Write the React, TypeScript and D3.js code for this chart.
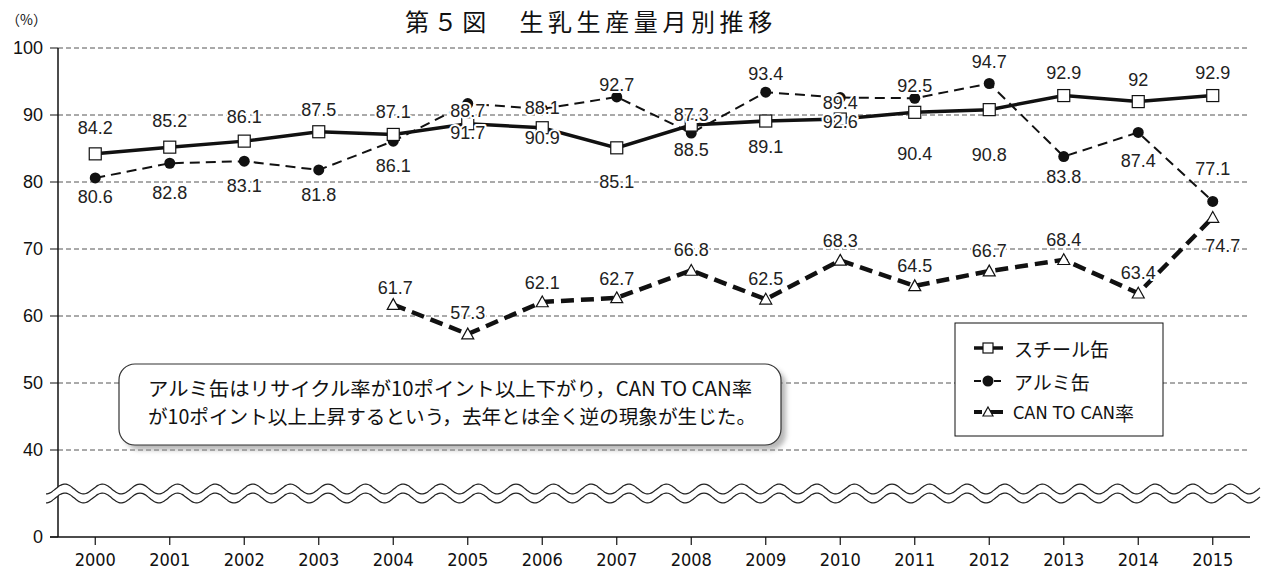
import { useMemo } from "react";
import * as d3 from "d3";

const years = ["2000","2001","2002","2003","2004","2005","2006","2007","2008","2009","2010","2011","2012","2013","2014","2015"];
const steel = [84.2, 85.2, 86.1, 87.5, 87.1, 88.7, 88.1, 85.1, 88.5, 89.1, 89.4, 90.4, 90.8, 92.9, 92.0, 92.9];
const alumi = [80.6, 82.8, 83.1, 81.8, 86.1, 91.7, 90.9, 92.7, 87.3, 93.4, 92.6, 92.5, 94.7, 83.8, 87.4, 77.1];
const canToCan = [null, null, null, null, 61.7, 57.3, 62.1, 62.7, 66.8, 62.5, 68.3, 64.5, 66.7, 68.4, 63.4, 74.7];
const yTicks = [0, 40, 50, 60, 70, 80, 90, 100];

// label offsets (px, relative to marker) as placed in the original figure
const steelLabelDy = [-26, -26, -24, -22, -22, -13, -20, 34, 25, 26, -16, 42, 45, -23, -22, -23];
const alumiLabelDy = [19, 30, 25, 25, 25, 29, 29, -12, -18, -18, 24, -12, -22, 20, 29, -32];
const canLabelDy = [0, 0, 0, 0, -17, -21, -19, -19, -20, -20, -19, -20, -20, -20, -20, 28];
const canLabelDx = [0, 0, 0, 0, 2, 0, 0, 0, 0, 0, 0, 0, 0, 0, 0, 10];

const W = 1261, H = 572;
const NUM_FONT = "'Liberation Sans', Arial, sans-serif";
const NARROW_FONT = "'DejaVu Sans Condensed', 'DejaVu Sans', sans-serif";
const JP_FONT = "'Noto Sans CJK JP', 'Noto Sans', sans-serif";

export default function App() {
  const x = d3.scaleBand<string>().domain(years).range([58, 1250]);
  const cx = (yr: string) => (x(yr) as number) + x.bandwidth() / 2;
  const y = d3.scaleLinear().domain([0, 40, 100]).range([537, 450, 48]);

  const lineGen = d3.line<[string, number | null]>()
    .defined((d) => d[1] != null)
    .x((d) => cx(d[0]))
    .y((d) => y(d[1] as number));

  const steelPts = years.map((yr, i) => [yr, steel[i]] as [string, number]);
  const alumiPts = years.map((yr, i) => [yr, alumi[i]] as [string, number]);
  const canPts = years.map((yr, i) => [yr, canToCan[i]] as [string, number | null]);

  const wave = useMemo(() => {
    const pts: [number, number][] = [];
    for (let px = 46; px <= W; px += 2) pts.push([px, Math.sin(((px - 46) / 37.6) * 2 * Math.PI + Math.PI / 2) * 5]);
    return pts;
  }, []);
  const waveLine = d3.line<[number, number]>().curve(d3.curveBasis);
  const yUp = 489, yLo = 498;
  const waveArea = d3.area<[number, number]>()
    .x((d) => d[0]).y0((d) => yUp + d[1]).y1((d) => yLo + d[1]).curve(d3.curveBasis);

  const tri = (px: number, py: number, s = 6) => `M${px},${py - s}L${px + s},${py + s * 0.8}L${px - s},${py + s * 0.8}Z`;

  const label = (key: string, px: number, py: number, text: string) => (
    <text key={key} x={px} y={py} textAnchor="middle" dominantBaseline="central"
      fontFamily={NUM_FONT} fontSize={18} fill="#222"
      stroke="#fff" strokeWidth={4} paintOrder="stroke" strokeLinejoin="round">{text}</text>
  );

  return (
    <svg width={W} height={H} style={{ position: "absolute", left: 0, top: 0, background: "#fff" }}>
      <defs>
        <filter id="shadow" x="-5%" y="-20%" width="115%" height="150%">
          <feGaussianBlur stdDeviation="2.5" />
        </filter>
      </defs>
      <rect width={W} height={H} fill="#fff" />
      <text x={405} y={20} dominantBaseline="central" fontFamily={JP_FONT} fontSize={24} letterSpacing={4.6} fill="#111">第５図　生乳生産量月別推移</text>
      <text x={6} y={19} dominantBaseline="central" fontFamily={JP_FONT} fontSize={14} fill="#111">（%）</text>

      {/* grid */}
      {yTicks.filter((t) => t >= 40).map((t) => (
        <line key={t} x1={58} x2={1250} y1={y(t)} y2={y(t)} stroke="#555" strokeWidth={1} strokeDasharray="5,3" />
      ))}
      {/* y axis */}
      <line x1={58} x2={58} y1={y(100)} y2={y(0)} stroke="#111" strokeWidth={1.5} />
      {yTicks.map((t) => (
        <g key={t}>
          <line x1={50} x2={58} y1={y(t)} y2={y(t)} stroke="#111" strokeWidth={1} />
          <text x={43} y={y(t)} textAnchor="end" dominantBaseline="central" fontFamily={NUM_FONT} fontSize={18} fill="#111">{t}</text>
        </g>
      ))}
      {/* x axis */}
      <line x1={50} x2={1250} y1={y(0)} y2={y(0)} stroke="#111" strokeWidth={1.5} />
      {years.map((yr) => (
        <g key={yr}>
          <line x1={cx(yr)} x2={cx(yr)} y1={y(0)} y2={y(0) + 8} stroke="#111" strokeWidth={1.2} />
          <text x={cx(yr)} y={559} textAnchor="middle" dominantBaseline="central" fontFamily={NARROW_FONT} fontStretch="condensed" fontSize={18} fill="#111">{yr}</text>
        </g>
      ))}

      {/* series lines */}
      <path d={lineGen(alumiPts) ?? ""} fill="none" stroke="#111" strokeWidth={2} strokeDasharray="10,6" />
      <path d={lineGen(canPts) ?? ""} fill="none" stroke="#111" strokeWidth={4.5} strokeDasharray="13,7" />
      <path d={lineGen(steelPts) ?? ""} fill="none" stroke="#111" strokeWidth={3.5} />

      {/* markers */}
      {alumiPts.map(([yr, v]) => <circle key={"a" + yr} cx={cx(yr)} cy={y(v)} r={5.5} fill="#111" />)}
      {canPts.filter((d) => d[1] != null).map(([yr, v]) => (
        <path key={"c" + yr} d={tri(cx(yr), y(v as number))} fill="#fff" stroke="#111" strokeWidth={1.2} />
      ))}
      {steelPts.map(([yr, v]) => (
        <rect key={"s" + yr} x={cx(yr) - 6} y={y(v) - 6} width={12} height={12} fill="#fff" stroke="#111" strokeWidth={1.2} />
      ))}

      {/* labels */}
      {steelPts.map(([yr, v], i) => label("ls" + yr, cx(yr), y(v) + steelLabelDy[i], String(v)))}
      {alumiPts.map(([yr, v], i) => label("la" + yr, cx(yr), y(v) + alumiLabelDy[i], String(v)))}
      {canPts.map(([yr, v], i) => v == null ? null : label("lc" + yr, cx(yr) + canLabelDx[i], y(v) + canLabelDy[i], String(v)))}

      {/* legend */}
      <g>
        <rect x={955} y={323} width={208} height={113} fill="#fff" stroke="#111" strokeWidth={1} />
        <line x1={974} x2={1003} y1={348} y2={348} stroke="#111" strokeWidth={3.5} />
        <rect x={983} y={343} width={10} height={10} fill="#fff" stroke="#111" strokeWidth={1.2} />
        <text x={1014} y={348} dominantBaseline="central" fontFamily={JP_FONT} fontSize={19} fill="#111">スチール缶</text>
        <line x1={974} x2={1003} y1={381} y2={381} stroke="#111" strokeWidth={2} strokeDasharray="7,3" />
        <circle cx={988} cy={381} r={5.5} fill="#111" />
        <text x={1014} y={381} dominantBaseline="central" fontFamily={JP_FONT} fontSize={19} fill="#111">アルミ缶</text>
        <line x1={974} x2={1003} y1={412} y2={412} stroke="#111" strokeWidth={4} strokeDasharray="8,8,6,0" />
        <path d={tri(988, 412, 5)} fill="#fff" stroke="#111" strokeWidth={1.2} />
        <text x={1013} y={412} dominantBaseline="central" fontFamily={NARROW_FONT} fontStretch="condensed" fontSize={18} fill="#111">CAN TO CAN<tspan fontFamily={JP_FONT} fontSize={19}>率</tspan></text>
      </g>

      {/* callout */}
      <g>
        <rect x={124} y={369} width={662} height={81} rx={16} fill="#999" opacity={0.7} filter="url(#shadow)" />
        <rect x={119} y={364} width={662} height={81} rx={16} fill="#fff" stroke="#333" strokeWidth={1.2} />
        <text x={148} y={387} dominantBaseline="central" fontFamily={JP_FONT} fontSize={19.5} fill="#111" textLength={604} lengthAdjust="spacingAndGlyphs">アルミ缶はリサイクル率が10ポイント以上下がり，CAN TO CAN率</text>
        <text x={148} y={415} dominantBaseline="central" fontFamily={JP_FONT} fontSize={19.5} fill="#111" textLength={608} lengthAdjust="spacingAndGlyphs">が10ポイント以上上昇するという，去年とは全く逆の現象が生じた。</text>
      </g>

      {/* axis break */}
      <path d={waveArea(wave) ?? ""} fill="#fff" />
      <path d={waveLine(wave.map(([px, dy]) => [px, yUp + dy])) ?? ""} fill="none" stroke="#222" strokeWidth={1.2} />
      <path d={waveLine(wave.map(([px, dy]) => [px, yLo + dy])) ?? ""} fill="none" stroke="#222" strokeWidth={1.2} />
    </svg>
  );
}
